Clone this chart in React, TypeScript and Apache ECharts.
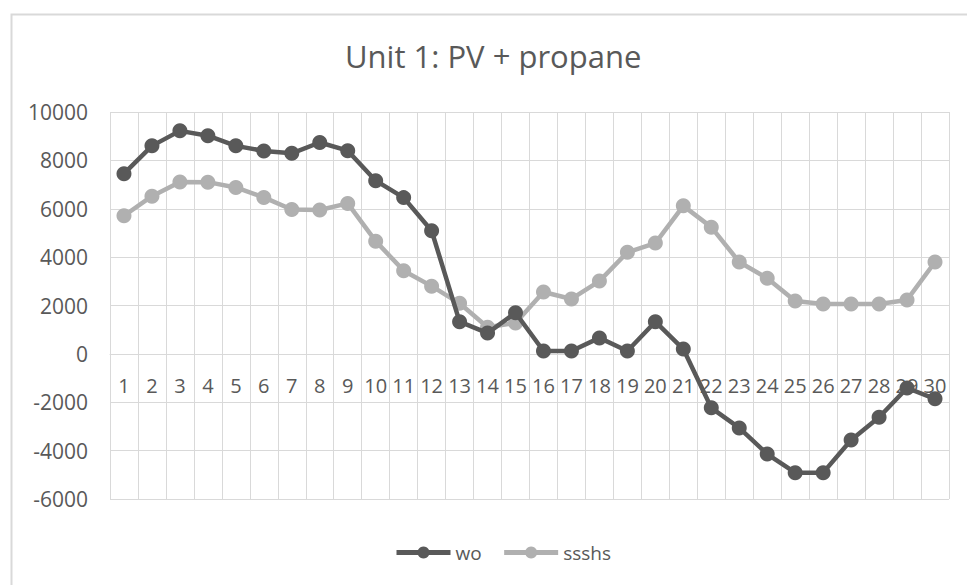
import React, { useEffect, useRef } from "react";
import * as echarts from "echarts";

const categories = Array.from({ length: 30 }, (_, i) => String(i + 1));
const woValues = [7450, 8600, 9220, 9020, 8600, 8390, 8290, 8740, 8400, 7160, 6460, 5090, 1330, 860, 1700, 120, 120, 660, 120, 1330, 200, -2230, -3060, -4140, -4910, -4910, -3560, -2620, -1410, -1860];
const ssshsValues = [5710, 6520, 7110, 7100, 6880, 6470, 5970, 5950, 6220, 4660, 3440, 2800, 2090, 1100, 1280, 2560, 2270, 3010, 4200, 4580, 6120, 5240, 3800, 3130, 2190, 2060, 2060, 2060, 2230, 3800];
const titleText = "Unit 1: PV + propane";
const seriesNames = ["wo", "ssshs"];
const yMin = -6000;
const yMax = 10000;
const yStep = 2000;

const FONT = "'Open Sans', sans-serif";
const TEXT_COLOR = "#595959";
const GRID_COLOR = "#D9D9D9";
const DARK = "#595959";
const LIGHT = "#B0B0B0";

const GRID_TOP = 112;
const GRID_BOTTOM = 86;
const H = 585;

export default function App() {
  const ref = useRef<HTMLDivElement>(null);
  useEffect(() => {
    if (!ref.current) return;
    const chart = echarts.init(ref.current, null, { renderer: "svg" });
    const plotH = H - GRID_TOP - GRID_BOTTOM;
    const zeroFromBottom = (plotH * (0 - yMin)) / (yMax - yMin);
    chart.setOption({
      animation: false,
      backgroundColor: "#ffffff",
      graphic: [
        {
          type: "rect",
          left: 9,
          top: 12,
          shape: { width: 1000, height: 620 },
          style: { fill: "none", stroke: GRID_COLOR, lineWidth: 2 },
          silent: true,
        },
      ],
      title: {
        text: titleText,
        left: 340,
        top: 35,
        textStyle: { fontFamily: FONT, fontSize: 31, fontWeight: "normal", color: TEXT_COLOR },
      },
      legend: {
        left: 389,
        top: 538,
        itemWidth: 54,
        itemHeight: 15,
        itemGap: 20,
        data: seriesNames,
        lineStyle: { width: 5 },
        textStyle: { fontFamily: FONT, fontSize: 19, color: TEXT_COLOR },
      },
      grid: { left: 110, right: 18, top: GRID_TOP, bottom: GRID_BOTTOM, containLabel: false },
      xAxis: {
        type: "category",
        data: categories,
        boundaryGap: true,
        offset: -zeroFromBottom,
        axisLine: { show: true, onZero: false, lineStyle: { color: GRID_COLOR, width: 1 } },
        axisTick: { show: false },
        axisLabel: { interval: 0, margin: 22, fontFamily: FONT, fontSize: 20, color: TEXT_COLOR },
        splitLine: { show: true, interval: 0, lineStyle: { color: GRID_COLOR, width: 1 } },
      },
      yAxis: {
        type: "value",
        min: yMin,
        max: yMax,
        interval: yStep,
        axisLine: { show: false },
        axisTick: { show: false },
        axisLabel: {
          margin: 22,
          fontFamily: FONT,
          fontSize: 21,
          color: TEXT_COLOR,
          formatter: (v: number) => String(v),
        },
        splitLine: { show: true, lineStyle: { color: GRID_COLOR, width: 1 } },
      },
      series: [
        {
          name: seriesNames[0],
          type: "line",
          data: woValues,
          symbol: "circle",
          symbolSize: 15,
          itemStyle: { color: DARK },
          lineStyle: { color: DARK, width: 4.5 },
          z: 3,
        },
        {
          name: seriesNames[1],
          type: "line",
          data: ssshsValues,
          symbol: "circle",
          symbolSize: 15,
          itemStyle: { color: LIGHT },
          lineStyle: { color: LIGHT, width: 4.5 },
          z: 2,
        },
      ],
    });
    return () => chart.dispose();
  }, []);
  return <div ref={ref} style={{ width: 967, height: 585, position: "absolute", left: 0, top: 0 }} />;
}
